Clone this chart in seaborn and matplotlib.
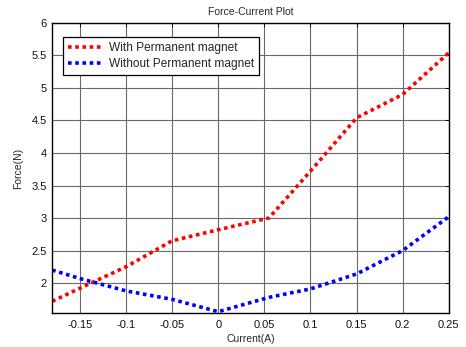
import numpy as np
import pandas as pd
import seaborn as sns
import matplotlib.pyplot as plt

current = [-0.18, -0.15, -0.1, -0.05, 0.0, 0.055, 0.1, 0.15, 0.2, 0.25]
force_with = [1.72, 1.92, 2.25, 2.65, 2.82, 3.0, 3.72, 4.54, 4.9, 5.54]
force_without = [2.2, 2.07, 1.88, 1.75, 1.56, 1.78, 1.91, 2.14, 2.5, 3.02]
labels = ["With Permanent magnet", "Without Permanent magnet"]

df = pd.DataFrame({
    "Current": current * 2,
    "Force": force_with + force_without,
    "Series": [labels[0]] * len(current) + [labels[1]] * len(current),
})

sns.set_style("white")
plt.rcParams['font.family'] = ['Liberation Sans', 'DejaVu Sans']

fig = plt.figure(figsize=(4.66, 3.47), dpi=100)
ax = fig.add_axes([0.112, 0.098, 0.851, 0.836])
sns.lineplot(data=df, x="Current", y="Force", hue="Series",
             palette=["#ff0000", "#0000ff"], linestyle=":", linewidth=2.6,
             ax=ax, sort=False)
for ln in ax.lines:
    ln.set_linestyle((0, (1, 1)))

ax.set_xlim(-0.18, 0.25)
ax.set_ylim(1.54, 6)
ax.set_xticks([-0.15, -0.1, -0.05, 0, 0.05, 0.1, 0.15, 0.2, 0.25])
ax.set_xticklabels(["-0.15", "-0.1", "-0.05", "0", "0.05", "0.1", "0.15", "0.2", "0.25"])
ax.set_yticks([2, 2.5, 3, 3.5, 4, 4.5, 5, 5.5, 6])
ax.set_yticklabels(["2", "2.5", "3", "3.5", "4", "4.5", "5", "5.5", "6"])
ax.grid(True, color="#6a6a6a", linewidth=0.8)
ax.set_axisbelow(True)
ax.tick_params(direction="in", length=3, labelsize=8, top=True, right=True,
               color="black", width=0.6, labelcolor="#111111")
ax.tick_params(axis="x", pad=5)
ax.tick_params(axis="y", pad=4)
for s in ax.spines.values():
    s.set_color("black")
    s.set_linewidth(1.0)

ax.set_title("Force-Current Plot", fontsize=7.5, pad=6)
ax.set_xlabel("Current(A)", fontsize=7.5, labelpad=3)
ax.set_ylabel("Force(N)", fontsize=7.5, labelpad=6)

leg = ax.legend(loc="upper left", bbox_to_anchor=(0.028, 0.95), fontsize=8.6,
                frameon=True, fancybox=False, framealpha=1, edgecolor="black",
                handlelength=2.8, handletextpad=0.6, borderpad=0.4,
                labelspacing=0.35, borderaxespad=0)
leg.get_frame().set_linewidth(0.9)
for h in leg.get_lines():
    h.set_linestyle((0, (1, 1)))
    h.set_linewidth(2.6)

fig.savefig("out.png", dpi=100)
